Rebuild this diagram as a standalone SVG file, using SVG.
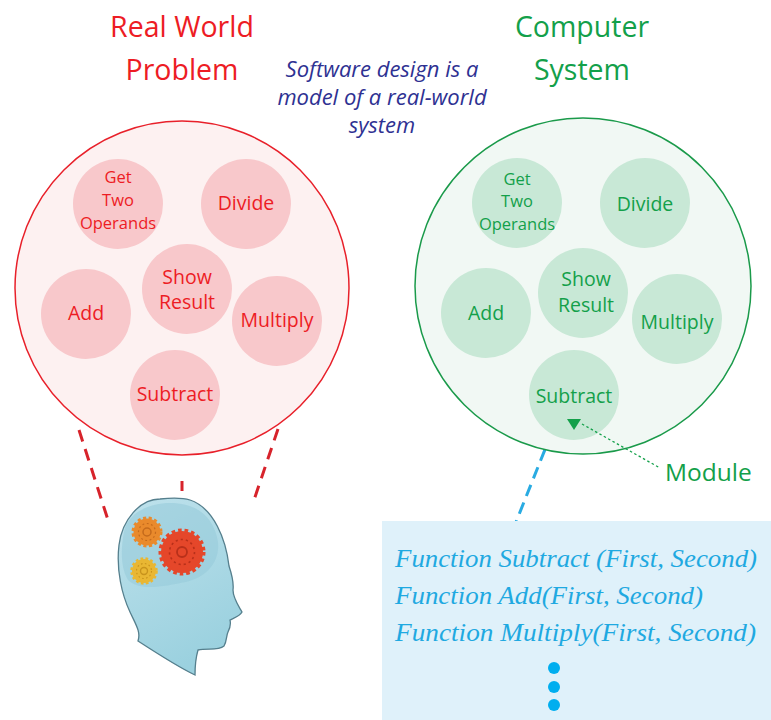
<svg xmlns="http://www.w3.org/2000/svg" width="771" height="720" viewBox="0 0 771 720">
  <style>
    .title { font-family: "Open Sans", "Noto Sans", sans-serif; font-size: 28.5px; text-anchor: middle; }
    .red { fill: #ed1c24; }
    .green { fill: #13a04a; }
    .lbl { font-family: "Open Sans", "Noto Sans", sans-serif; font-size: 19.5px; text-anchor: middle; }
    .lbl-s { font-family: "Open Sans", "Noto Sans", sans-serif; font-size: 16.5px; text-anchor: middle; }
    .note { font-family: "Open Sans", "Noto Sans", sans-serif; font-style: italic; font-size: 22px; fill: #2e3192; text-anchor: middle; }
    .fn { font-family: "Liberation Serif", "Times New Roman", serif; font-style: italic; font-size: 25px; fill: #1fa9e1; }
    .big-red { fill: #fdf1f1; stroke: #e8202a; stroke-width: 1.5; }
    .big-green { fill: #f1f8f4; stroke: #1a9a4a; stroke-width: 1.5; }
    .sm-red { fill: #f8c8cb; }
    .sm-green { fill: #c8e8d6; }
  </style>
  <defs>
    <linearGradient id="headFill" x1="0" y1="0" x2="0.4" y2="1">
      <stop offset="0" stop-color="#bfe2ec"/>
      <stop offset="1" stop-color="#9bd1df"/>
    </linearGradient>
  </defs>

  <!-- headings -->
  <g id="title-left">
    <text class="title red" x="182" y="37">Real World</text>
    <text class="title red" x="182" y="80">Problem</text>
  </g>
  <g id="title-right">
    <text class="title green" x="582" y="37">Computer</text>
    <text class="title green" x="582" y="80">System</text>
  </g>
  <g id="caption">
    <text class="note" x="382" y="77">Software design is a</text>
    <text class="note" x="382" y="105">model of a real-world</text>
    <text class="note" x="382" y="133">system</text>
  </g>

  <!-- connectors -->
  <g id="connectors" fill="none">
    <line x1="79" y1="430" x2="108" y2="520" stroke="#d7232b" stroke-width="3" stroke-dasharray="12 8"/>
    <line x1="182" y1="481" x2="182" y2="491" stroke="#d7232b" stroke-width="3"/>
    <line x1="278" y1="429" x2="254" y2="500" stroke="#d7232b" stroke-width="3" stroke-dasharray="12 8"/>
    <line x1="552" y1="432" x2="510" y2="537" stroke="#29abe2" stroke-width="3" stroke-dasharray="12 7"/>
  </g>

  <!-- real world problem -->
  <g id="problem">
    <circle class="big-red" cx="182" cy="288" r="167"/>
    <g id="p-get"><circle class="sm-red" cx="118" cy="204" r="45"/>
      <text class="lbl-s red" x="118" y="183">Get</text>
      <text class="lbl-s red" x="118" y="206">Two</text>
      <text class="lbl-s red" x="118" y="229">Operands</text></g>
    <g id="p-divide"><circle class="sm-red" cx="246" cy="204" r="45"/>
      <text class="lbl red" x="246" y="210">Divide</text></g>
    <g id="p-show"><circle class="sm-red" cx="187" cy="289" r="45"/>
      <text class="lbl red" x="187" y="284">Show</text>
      <text class="lbl red" x="187" y="309">Result</text></g>
    <g id="p-add"><circle class="sm-red" cx="86" cy="314" r="45"/>
      <text class="lbl red" x="86" y="320">Add</text></g>
    <g id="p-multiply"><circle class="sm-red" cx="277" cy="321" r="45"/>
      <text class="lbl red" x="277" y="327">Multiply</text></g>
    <g id="p-subtract"><circle class="sm-red" cx="175" cy="395" r="45"/>
      <text class="lbl red" x="175" y="401">Subtract</text></g>
  </g>

  <!-- computer system -->
  <g id="system">
    <circle class="big-green" cx="583" cy="286" r="168"/>
    <g id="s-get"><circle class="sm-green" cx="517" cy="203" r="45"/>
      <text class="lbl-s green" x="517" y="185">Get</text>
      <text class="lbl-s green" x="517" y="207">Two</text>
      <text class="lbl-s green" x="517" y="230">Operands</text></g>
    <g id="s-divide"><circle class="sm-green" cx="645" cy="203" r="45"/>
      <text class="lbl green" x="645" y="211">Divide</text></g>
    <g id="s-show"><circle class="sm-green" cx="583" cy="293" r="45"/>
      <text class="lbl green" x="586" y="286">Show</text>
      <text class="lbl green" x="586" y="312">Result</text></g>
    <g id="s-add"><circle class="sm-green" cx="486" cy="313" r="45"/>
      <text class="lbl green" x="486" y="320">Add</text></g>
    <g id="s-multiply"><circle class="sm-green" cx="677" cy="319" r="45"/>
      <text class="lbl green" x="677" y="329">Multiply</text></g>
    <g id="s-subtract"><circle class="sm-green" cx="574" cy="395" r="45"/>
      <text class="lbl green" x="574" y="403">Subtract</text></g>
  </g>

  <!-- module pointer -->
  <g id="module">
    <polygon points="567,419 581,419 574,430" fill="#13a04a"/>
    <line x1="582" y1="424" x2="660" y2="468" stroke="#13a04a" stroke-width="1.3" stroke-dasharray="2.5 2.5"/>
    <text x="665" y="481" font-family="Open Sans, Noto Sans, sans-serif" font-size="24.5" fill="#13a04a">Module</text>
  </g>

  <!-- thinking head -->
  <g id="head">
    <path d="M160,499 C140,499 122,520 119,545 C116,570 122,595 130,612 C136,625 141,632 138,641 C158,654 178,667 195,675 C195,666 196,657 198,650 C208,648 218,651 224,646 C227,641 226,636 228,632 C230,628 231,624 230,620 C234,618 240,616 242,612 C238,605 233,598 233,590 C234,582 232,575 229,566 C226,540 214,508 190,500 C180,497 170,498 160,499 Z" fill="url(#headFill)" stroke="#557f8d" stroke-width="1.3"/>
    <path d="M124,532 C128,512 150,503 170,503 C196,503 214,516 218,542 C220,562 207,577 186,582 C165,586 140,592 128,580 C120,567 121,547 124,532 Z" fill="#97cbda" opacity="0.6"/>
    <!-- gears -->
    <g id="gear-orange">
      <circle cx="147" cy="532" r="13.5" fill="#e98a2c" stroke="#e98a2c" stroke-width="4" stroke-dasharray="3 2.4"/>
      <circle cx="147" cy="532" r="4" fill="none" stroke="#c46a1c" stroke-width="1.5"/>
      <circle cx="147" cy="532" r="8.5" fill="none" stroke="#c46a1c" stroke-width="1.2" stroke-dasharray="1.8 2.6"/>
    </g>
    <g id="gear-yellow">
      <circle cx="144" cy="571" r="12" fill="#e9b733" stroke="#e9b733" stroke-width="3.5" stroke-dasharray="2.6 2.2"/>
      <circle cx="144" cy="571" r="3.5" fill="none" stroke="#c8931c" stroke-width="1.4"/>
      <circle cx="144" cy="571" r="7.5" fill="none" stroke="#c8931c" stroke-width="1.1" stroke-dasharray="1.6 2.4"/>
    </g>
    <g id="gear-red">
      <circle cx="182" cy="552" r="21" fill="#e5472a" stroke="#e5472a" stroke-width="5" stroke-dasharray="3.5 2.8"/>
      <circle cx="182" cy="552" r="5" fill="none" stroke="#b8301a" stroke-width="1.8"/>
      <circle cx="182" cy="552" r="12.5" fill="none" stroke="#b8301a" stroke-width="1.6" stroke-dasharray="2.2 3"/>
    </g>
  </g>

  <!-- function listing -->
  <g id="functions">
    <rect x="382" y="521" width="389" height="199" fill="#dff1fa"/>
    <text class="fn" x="395" y="567" textLength="362" lengthAdjust="spacingAndGlyphs">Function Subtract (First, Second)</text>
    <text class="fn" x="395" y="604" textLength="308" lengthAdjust="spacingAndGlyphs">Function Add(First, Second)</text>
    <text class="fn" x="395" y="641" textLength="361" lengthAdjust="spacingAndGlyphs">Function Multiply(First, Second)</text>
    <circle cx="554" cy="668" r="6" fill="#00aeef"/>
    <circle cx="554" cy="687" r="6" fill="#00aeef"/>
    <circle cx="554" cy="705" r="6" fill="#00aeef"/>
  </g>
</svg>
